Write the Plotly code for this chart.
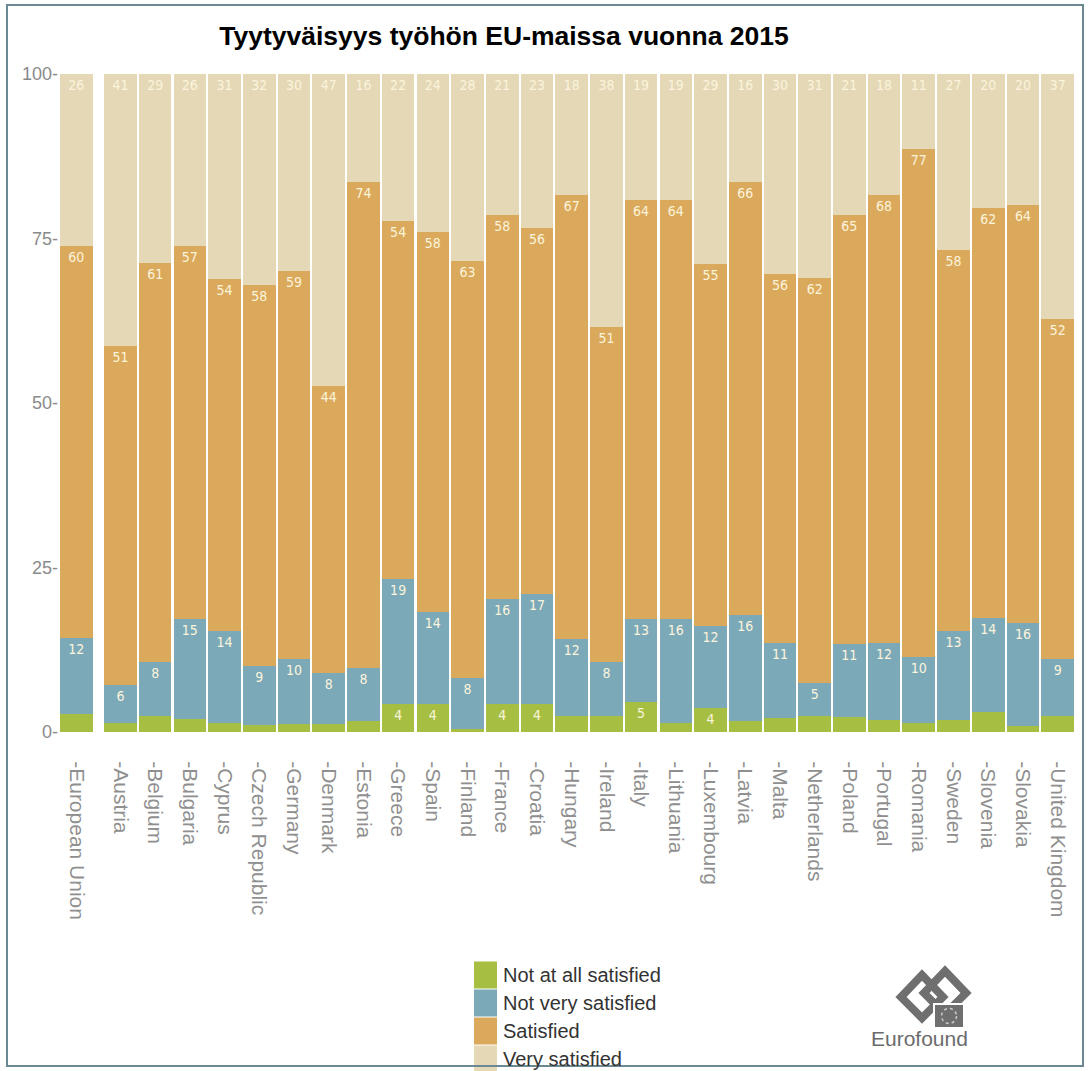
import plotly.graph_objects as go

# Job satisfaction by country, 2015 (shares in %)
countries = ["European Union", "Austria", "Belgium", "Bulgaria", "Cyprus", "Czech Republic",
             "Germany", "Denmark", "Estonia", "Greece", "Spain", "Finland", "France", "Croatia",
             "Hungary", "Ireland", "Italy", "Lithuania", "Luxembourg", "Latvia", "Malta",
             "Netherlands", "Poland", "Portugal", "Romania", "Sweden", "Slovenia", "Slovakia",
             "United Kingdom"]

not_at_all = [2.7, 1.4, 2.4, 2.0, 1.4, 1.1, 1.2, 1.2, 1.7, 4.2, 4.2, 0.4, 4.3, 4.3, 2.4,
              2.4, 4.6, 1.3, 3.7, 1.7, 2.2, 2.4, 2.3, 1.9, 1.4, 1.9, 3.0, 0.9, 2.4]
not_very = [11.6, 5.8, 8.3, 15.2, 13.9, 9.0, 9.9, 7.7, 8.0, 19.1, 14.1, 7.8, 15.9, 16.6, 11.8,
            8.2, 12.6, 15.9, 12.4, 16.1, 11.3, 5.0, 11.0, 11.7, 10.0, 13.4, 14.3, 15.6, 8.7]
satisfied = [59.6, 51.4, 60.6, 56.6, 53.6, 57.8, 59.0, 43.7, 73.9, 54.3, 57.7, 63.4, 58.4, 55.7,
             67.4, 51.0, 63.6, 63.6, 55.0, 65.8, 56.1, 61.6, 65.3, 68.0, 77.2, 58.0, 62.3, 63.6, 51.6]
very_satisfied = [26.1, 41.4, 28.7, 26.2, 31.1, 32.1, 29.9, 47.4, 16.4, 22.4, 24.0, 28.4, 21.4,
                  23.4, 18.4, 38.4, 19.2, 19.2, 28.9, 16.4, 30.4, 31.0, 21.4, 18.4, 11.4, 26.7,
                  20.4, 19.9, 37.3]

series_names = ["Not at all satisfied", "Not very satisfied", "Satisfied", "Very satisfied"]
series_values = [not_at_all, not_very, satisfied, very_satisfied]
colors = ["#a6bf42", "#7ba9b8", "#dba95b", "#e4d8b6"]

y_ticks = [0, 25, 50, 75, 100]

# Figure geometry (pixels)
W, H = 1090, 1071
ML, MR, MT, MB = 59, 15, 74, 339
PW, PH = W - ML - MR, H - MT - MB


def px_x(x):
    return (x - ML) / PW


def px_y(y):
    return (H - MB - y) / PH


# EU aggregate sits slightly apart from the member states
GROUP_GAP = 0.27
xpos = [0.0] + [i + GROUP_GAP for i in range(1, len(countries))]


def label(v, min_show=3.5):
    return f"{v:.0f}" if v >= min_show else ""


fig = go.Figure()
for name, vals, col in zip(series_names, series_values, colors):
    fig.add_trace(go.Bar(
        x=xpos, y=vals, name=name, width=0.94,
        marker=dict(color=col, line=dict(width=0)),
        text=[label(v) for v in vals],
        textposition="inside", insidetextanchor="end", textangle=0,
        insidetextfont=dict(family="DejaVu Sans Condensed, DejaVu Sans Mono, sans-serif",
                            size=14, color="#fbf4dc"),
        constraintext="none",
        hoverinfo="skip", showlegend=False,
    ))

shapes = []
annotations = []

# Legend drawn as stacked swatches with labels
leg_x0, leg_x1 = 474, 497
row_centers = [975, 1003, 1031, 1059]
for name, col, yc in zip(series_names, colors, row_centers):
    shapes.append(dict(type="rect", xref="paper", yref="paper",
                       x0=px_x(leg_x0), x1=px_x(leg_x1),
                       y0=px_y(yc + 13.5), y1=px_y(yc - 13.5),
                       fillcolor=col, line=dict(width=0), layer="above"))
    annotations.append(dict(text=name, xref="paper", yref="paper",
                            x=px_x(501), y=px_y(yc), xanchor="left", yanchor="middle",
                            showarrow=False,
                            font=dict(family="Liberation Sans, Arial, sans-serif",
                                      size=20, color="#333333")))


def path_from(points):
    pts = [f"{px_x(x):.5f},{px_y(y):.5f}" for x, y in points]
    return "M " + " L ".join(pts) + " Z"


# Eurofound mark: two interlocking links and the EU square
logo_grey = "#6f6f6f"
shapes.append(dict(type="path", xref="paper", yref="paper",
                   path=path_from([(901, 997), (922, 975), (943, 997), (922, 1018)]),
                   line=dict(color=logo_grey, width=8), layer="above"))
shapes.append(dict(type="path", xref="paper", yref="paper",
                   path=path_from([(924, 993), (945, 971), (966, 993), (945, 1014)]),
                   line=dict(color=logo_grey, width=8), layer="above"))
shapes.append(dict(type="rect", xref="paper", yref="paper",
                   x0=px_x(934), x1=px_x(964), y0=px_y(1028), y1=px_y(1004),
                   fillcolor=logo_grey, line=dict(color="white", width=2), layer="above"))
shapes.append(dict(type="circle", xref="paper", yref="paper",
                   x0=px_x(941.5), x1=px_x(956.5), y0=px_y(1023.5), y1=px_y(1008.5),
                   line=dict(color="#c8c8c8", width=1.5, dash="dot"), layer="above"))
annotations.append(dict(text="Eurofound", xref="paper", yref="paper",
                        x=px_x(919), y=px_y(1038), xanchor="center", yanchor="middle",
                        showarrow=False,
                        font=dict(family="Liberation Sans, Arial, sans-serif",
                                  size=21, color="#6b6b6b")))

# Outer frame
shapes.append(dict(type="rect", xref="paper", yref="paper",
                   x0=px_x(7), x1=px_x(1083), y0=px_y(1066), y1=px_y(5),
                   line=dict(color="#6a8995", width=2), fillcolor="rgba(0,0,0,0)",
                   layer="above"))

fig.update_layout(
    width=W, height=H,
    margin=dict(l=ML, r=MR, t=MT, b=MB, pad=0),
    barmode="stack",
    paper_bgcolor="white", plot_bgcolor="white",
    title=dict(text="<b>Tyytyväisyys työhön EU-maissa vuonna 2015</b>",
               x=504 / W, xref="container", xanchor="center",
               y=1 - 36 / H, yref="container", yanchor="middle",
               font=dict(family="Liberation Sans, Arial, sans-serif", size=26.5, color="black")),
    xaxis=dict(range=[-0.5, xpos[-1] + 0.5], tickvals=xpos,
               ticktext=["-" + c for c in countries], tickangle=90,
               ticks="outside", ticklen=24, tickcolor="rgba(0,0,0,0)",
               tickfont=dict(family="Liberation Sans, Arial, sans-serif", size=21, color="#8f8f8f"),
               showgrid=False, zeroline=False, showline=False, fixedrange=True),
    yaxis=dict(range=[0, 100], tickvals=y_ticks, ticktext=[f"{t}-" for t in y_ticks],
               tickfont=dict(family="Liberation Sans, Arial, sans-serif", size=18, color="#8a8a8a"),
               showgrid=False, zeroline=False, showline=False, ticks="", fixedrange=True),
    shapes=shapes,
    annotations=annotations,
    showlegend=False,
)

fig.write_html("out.html")
